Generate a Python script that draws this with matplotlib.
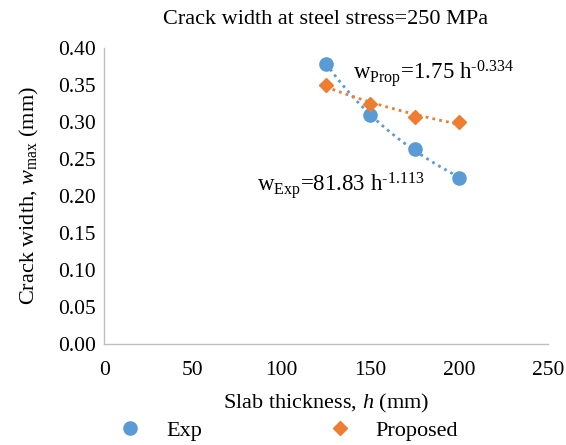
import numpy as np
import matplotlib
matplotlib.use("Agg")
import matplotlib.pyplot as plt

plt.rcParams['font.family'] = ['Liberation Serif', 'DejaVu Serif']
plt.rcParams['mathtext.fontset'] = 'custom'
plt.rcParams['mathtext.rm'] = 'Liberation Serif'
plt.rcParams['mathtext.it'] = 'Liberation Serif:italic'

h = [125, 150, 175, 200]
w_exp = [0.378, 0.310, 0.264, 0.224]
w_prop = [0.350, 0.325, 0.307, 0.300]
xticks = [0, 50, 100, 150, 200, 250]
yticks = [0.00, 0.05, 0.10, 0.15, 0.20, 0.25, 0.30, 0.35, 0.40]

blue = '#5B9BD5'
orange = '#ED7D31'

fig = plt.figure(figsize=(5.66, 4.45), dpi=100)
ax = fig.add_axes([0.184, 0.227, 0.784, 0.665])

def power_fit(x, y):
    b, a = np.polyfit(np.log(x), np.log(y), 1)
    xs = np.linspace(min(x), max(x), 100)
    return xs, np.exp(a) * xs ** b

xs, ys = power_fit(h, w_exp)
ax.plot(xs, ys, linestyle=(0, (1, 1.5)), color=blue, lw=2)
xs, ys = power_fit(h, w_prop)
ax.plot(xs, ys, linestyle=(0, (1, 1.5)), color=orange, lw=2)

ax.plot(h, w_exp, 'o', color=blue, markersize=9.5, label='Exp', zorder=3)
ax.plot(h, w_prop, 'D', color=orange, markersize=7.5, label='Proposed', zorder=3)

ax.set_xlim(0, 250)
ax.set_ylim(0, 0.40)
ax.set_xticks(xticks)
ax.set_yticks(yticks)
ax.set_yticklabels([f'{v:.2f}' for v in yticks])
ax.tick_params(axis='both', length=0, labelsize=15.5)
ax.tick_params(axis='x', pad=12)
ax.tick_params(axis='y', pad=6)
for s in ['top', 'right']:
    ax.spines[s].set_visible(False)
for s in ['left', 'bottom']:
    ax.spines[s].set_color('#BFBFBF')
    ax.spines[s].set_linewidth(1)

ax.set_title('Crack width at steel stress=250 MPa', fontsize=16, pad=17)
ax.set_xlabel('Slab thickness, $\\it{h}$ (mm)', fontsize=16, labelpad=9)
ax.set_ylabel('Crack width, $\\it{w}$$_{\\mathrm{max}}$ (mm)', fontsize=16, labelpad=12)

ax.text(140, 0.358, 'w$_{\\mathrm{Prop}}$=1.75 h$^{\\text{-0.334}}$', fontsize=16.5)
ax.text(86, 0.207, 'w$_{\\mathrm{Exp}}$=81.83 h$^{\\text{-1.113}}$', fontsize=16.5)

leg = fig.legend(loc='lower center', bbox_to_anchor=(0.5, -0.035), ncol=2, frameon=False,
                 fontsize=16, columnspacing=5.2, handletextpad=0.6)

fig.savefig('out.png', dpi=100)
